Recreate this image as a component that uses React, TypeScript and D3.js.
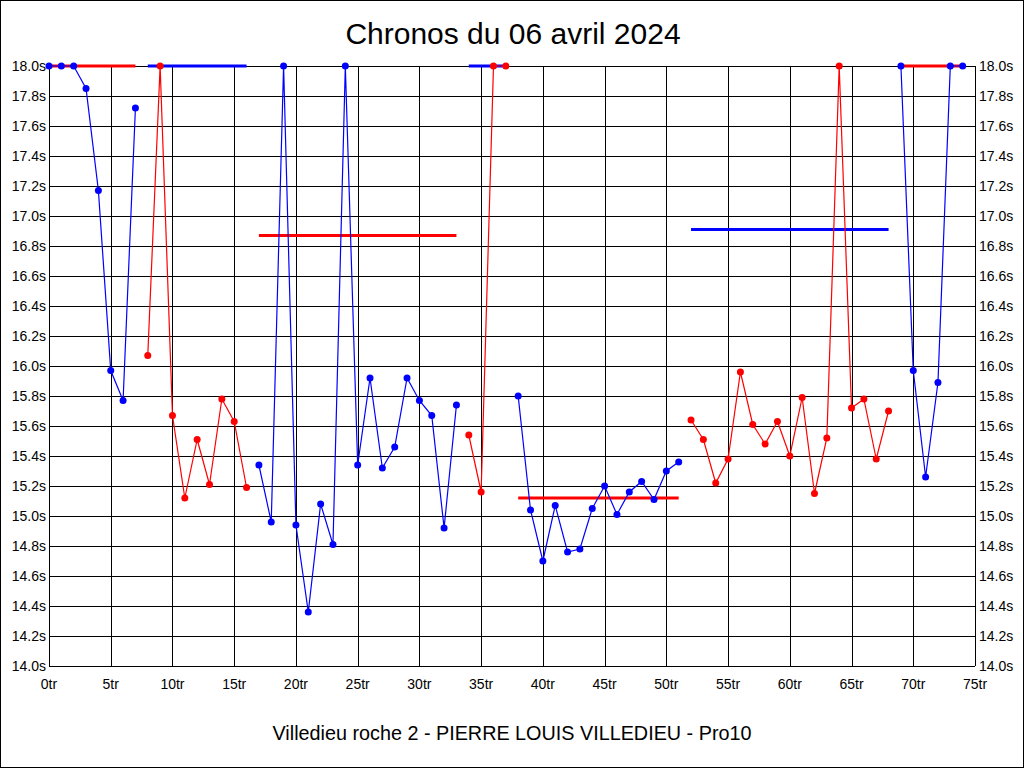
import React from "react";
import * as d3 from "d3";

// Lap times (seconds), lap index 0..74; values above 18.0 are clipped to 18.0
const lapTimes: number[] = [
  18.0, 18.0, 18.0, 17.85, 17.17, 15.97, 15.77, 17.72,
  16.07, 18.0, 15.67, 15.12, 15.51, 15.21, 15.78, 15.63, 15.19,
  15.34, 14.96, 18.0, 14.94, 14.36, 15.08, 14.81, 18.0, 15.34, 15.92, 15.32, 15.46, 15.92, 15.77, 15.67, 14.92, 15.74,
  15.54, 15.16, 18.0, 18.0,
  15.8, 15.04, 14.7, 15.07, 14.76, 14.78, 15.05, 15.2, 15.01, 15.16, 15.23, 15.11, 15.3, 15.36,
  15.64, 15.51, 15.22, 15.38, 15.96, 15.61, 15.48, 15.63, 15.4, 15.79, 15.15, 15.52, 18.0, 15.72, 15.78, 15.38, 15.7,
  18.0, 15.97, 15.26, 15.89, 18.0, 18.0,
];

// Stints: first lap, last lap, series colour, average line value and colour
const stintStart: number[] = [0, 8, 17, 34, 38, 52, 69];
const stintEnd: number[] = [7, 16, 33, 37, 51, 68, 74];
const stintColor: string[] = ["#0000ff", "#ff0000", "#0000ff", "#ff0000", "#0000ff", "#ff0000", "#0000ff"];
const stintAverage: number[] = [18.0, 18.0, 16.87, 18.0, 15.12, 16.91, 18.0];
const averageColor: string[] = ["#ff0000", "#0000ff", "#ff0000", "#0000ff", "#ff0000", "#0000ff", "#ff0000"];

const xTicks: number[] = d3.range(0, 76, 5);
const yTicks: number[] = d3.range(0, 21).map((i) => +(14 + i * 0.2).toFixed(1));

const title = "Chronos du 06 avril 2024";
const subtitle = "Villedieu roche 2 - PIERRE LOUIS VILLEDIEU - Pro10";

const W = 1024;
const H = 768;
const left = 49;
const right = 975;
const top = 66;
const bottom = 666;

export default function App() {
  const x = d3.scaleLinear().domain([0, 75]).range([left, right]);
  const y = d3.scaleLinear().domain([14, 18]).range([bottom, top]);
  const line = d3
    .line<number>()
    .x((d) => x(d))
    .y((d) => y(lapTimes[d]));
  const font = "'Liberation Sans', Arial, sans-serif";

  return (
    <svg
      width={W}
      height={H}
      style={{ position: "absolute", left: 0, top: 0, background: "#fff" }}
      fontFamily={font}
    >
      <rect x={0.5} y={0.5} width={W - 1} height={H - 1} fill="#fff" stroke="#000" strokeWidth={1} />
      <text x={513} y={44} textAnchor="middle" fontSize={30} fill="#000">
        {title}
      </text>
      <text x={512} y={740} textAnchor="middle" fontSize={19.8} fill="#000">
        {subtitle}
      </text>

      {/* grid */}
      <g shapeRendering="crispEdges" stroke="#000" strokeWidth={1}>
        {yTicks.map((t) => (
          <line key={"h" + t} x1={left} x2={right} y1={Math.round(y(t)) + 0.5} y2={Math.round(y(t)) + 0.5} />
        ))}
        {xTicks.map((t) => (
          <line key={"v" + t} x1={Math.round(x(t)) + 0.5} x2={Math.round(x(t)) + 0.5} y1={top} y2={bottom} />
        ))}
      </g>

      {/* tick labels */}
      <g fontSize={14} fill="#000">
        {yTicks.map((t) => (
          <text key={"l" + t} x={left - 3} y={y(t)} dy="0.35em" textAnchor="end">
            {t.toFixed(1) + "s"}
          </text>
        ))}
        {yTicks.map((t) => (
          <text key={"r" + t} x={right + 4} y={y(t)} dy="0.35em" textAnchor="start">
            {t.toFixed(1) + "s"}
          </text>
        ))}
        {xTicks.map((t) => (
          <text key={"x" + t} x={x(t)} y={689} textAnchor="middle">
            {t + "tr"}
          </text>
        ))}
      </g>

      {/* average lines */}
      {stintStart.map((s, i) => (
        <line
          key={"avg" + i}
          x1={x(s)}
          x2={x(stintEnd[i])}
          y1={y(stintAverage[i])}
          y2={y(stintAverage[i])}
          stroke={averageColor[i]}
          strokeWidth={3}
        />
      ))}

      {/* lap series */}
      {stintStart.map((s, i) => {
        const laps = d3.range(s, stintEnd[i] + 1);
        return (
          <g key={"stint" + i}>
            <path d={line(laps) || ""} fill="none" stroke={stintColor[i]} strokeWidth={1.2} />
            {laps.map((l) => (
              <circle key={l} cx={x(l)} cy={y(lapTimes[l])} r={3.5} fill={stintColor[i]} />
            ))}
          </g>
        );
      })}
    </svg>
  );
}
